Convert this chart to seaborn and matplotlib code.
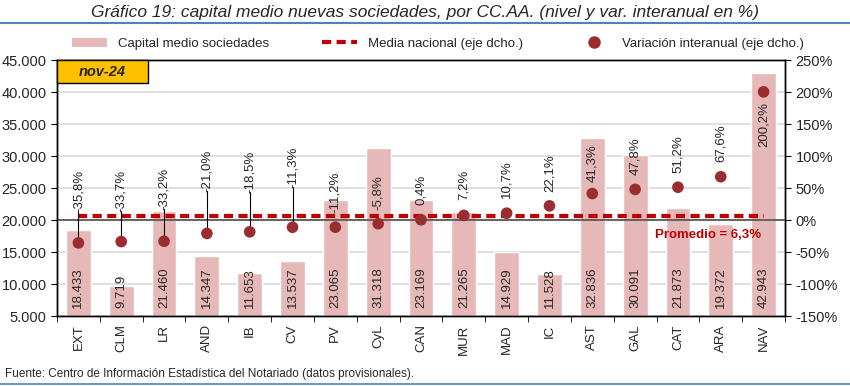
import numpy as np
import pandas as pd
import matplotlib
matplotlib.use("Agg")
import matplotlib.pyplot as plt
import matplotlib.ticker as mticker
from matplotlib.patches import Patch, Rectangle
from matplotlib.lines import Line2D
import seaborn as sns

# data
regiones = ["EXT", "CLM", "LR", "AND", "IB", "CV", "PV", "CyL", "CAN",
            "MUR", "MAD", "IC", "AST", "GAL", "CAT", "ARA", "NAV"]
capital = [18433, 9719, 21460, 14347, 11653, 13537, 23065, 31318, 23169,
           21265, 14929, 11528, 32836, 30091, 21873, 19372, 42943]
variacion = [-35.8, -33.7, -33.2, -21.0, -18.5, -11.3, -11.2, -5.8, 0.4,
             7.2, 10.7, 22.1, 41.3, 47.8, 51.2, 67.6, 200.2]
media_nacional = 6.3
periodo = "nov-24"

df = pd.DataFrame({"region": regiones, "capital": capital, "variacion": variacion})

sns.set_style("white")
plt.rcParams["font.family"] = ["Liberation Sans", "DejaVu Sans"]

BAR = "#E6B9B8"
DOT = "#9B2D30"
RED = "#C00000"
BLUE = "#4F81BD"

fig = plt.figure(figsize=(8.5, 3.86), dpi=100)
ax = fig.add_axes([57 / 850, 70 / 386, 728 / 850, 256 / 386])

sns.barplot(data=df, x="region", y="capital", color=BAR, width=0.58,
            saturation=1, ax=ax, zorder=2)
ax.set_ylim(5000, 45000)
ax.set_xlim(-0.5, len(regiones) - 0.5)
ax.yaxis.set_major_locator(mticker.MultipleLocator(5000))
ax.yaxis.set_major_formatter(mticker.FuncFormatter(lambda v, p: f"{v:,.0f}".replace(",", ".")))
ax.grid(axis="y", color="#D9D9D9", lw=1.2, zorder=0)
ax.set_axisbelow(True)
ax.set_xlabel("")
ax.set_ylabel("")
ax.tick_params(axis="y", labelsize=10.5, left=True, length=4, direction="out", color="black")
ax.tick_params(axis="x", labelsize=9.5, rotation=90, length=0, pad=6)
ax.set_xticks(np.arange(len(regiones) + 1) - 0.5, minor=True)
ax.tick_params(axis="x", which="minor", bottom=True, length=4, color="black")
for s in ax.spines.values():
    s.set_color("black")
    s.set_linewidth(1)

for i, v in enumerate(capital):
    ax.text(i, 6300, f"{v:,}".replace(",", "."), rotation=90, ha="center",
            va="bottom", fontsize=9.5, zorder=3)

ax2 = ax.twinx()
ax2.set_ylim(-150, 250)
ax2.yaxis.set_major_locator(mticker.MultipleLocator(50))
ax2.yaxis.set_major_formatter(mticker.FuncFormatter(lambda v, p: f"{v:.0f}%"))
ax2.tick_params(axis="y", labelsize=10.5, right=True, length=4, direction="out", color="black")
ax2.axhline(0, color="#595959", lw=1.3, zorder=1)

sns.lineplot(x=np.arange(len(regiones)), y=[media_nacional] * len(regiones),
             color=RED, lw=3, dashes=False, ax=ax2, zorder=3)
ax2.lines[-1].set_dashes((2.2, 1.3))
sns.scatterplot(x=np.arange(len(regiones)), y=variacion, color=DOT, s=70,
                edgecolor="none", ax=ax2, zorder=4)
ax2.set_xlim(-0.5, len(regiones) - 0.5)

# label positions (in % units) as in the original
label_pos = [12.5, 12.5, 15.6, 43.7, 42, 50, 11, 15.6, 23, 31, 34, 44,
             59, 70, 73, 91, 184]
leader = [True, True, True, True, True, True, False, False, False, False,
          False, False, False, False, False, False, False]
for i, (v, yl, ld) in enumerate(zip(variacion, label_pos, leader)):
    txt = f"{v:.1f}%".replace(".", ",")
    if i == len(variacion) - 1:
        ax2.text(i, yl, txt, rotation=90, ha="center", va="top", fontsize=9.5, zorder=5)
    else:
        ax2.text(i, yl, txt, rotation=90, ha="center", va="bottom", fontsize=9.5, zorder=5)
    if ld:
        ax2.plot([i, i], [v, yl + 1], color="black", lw=0.8, zorder=3)

ax2.text(14.7, -23, f"Promedio = {media_nacional:.1f}%".replace(".", ","),
         color=RED, fontweight="bold", fontsize=9.5, ha="center", va="center", zorder=5)

for s in ax2.spines.values():
    s.set_color("black")
    s.set_linewidth(1)

# period box
ax2.add_patch(Rectangle((0, 1 - 23 / 256), 91 / 728, 23 / 256, transform=ax2.transAxes,
                        facecolor="#FFC000", edgecolor="black", lw=1, zorder=6, clip_on=False))
ax2.text(45.5 / 728, 1 - 11.5 / 256, periodo, transform=ax2.transAxes, ha="center",
         va="center", fontsize=10.5, fontweight="bold", style="italic", zorder=7)

# legend
handles = [Patch(facecolor=BAR, edgecolor="none"),
           Line2D([], [], color=RED, lw=3, dashes=(2.2, 1.3)),
           Line2D([], [], color=DOT, marker="o", ls="none", markersize=8)]
labels = ["Capital medio sociedades", "Media nacional (eje dcho.)",
          "Variación interanual (eje dcho.)"]
fig.legend(handles, labels, loc="center", bbox_to_anchor=(0.515, 1 - 44 / 386), ncol=3,
           frameon=False, fontsize=9.5, columnspacing=4, handlelength=2.7)

# title, source and rules
fig.text(0.5, 1 - 12 / 386, "Gráfico 19: capital medio nuevas sociedades, por CC.AA. (nivel y var. interanual en %)",
         ha="center", va="center", fontsize=12.5, style="italic")
fig.add_artist(Line2D([0, 1], [1 - 23 / 386] * 2, color=BLUE, lw=1.5))
fig.text(5 / 850, 1 - 374 / 386, "Fuente: Centro de Información Estadística del Notariado (datos provisionales).",
         ha="left", va="center", fontsize=8.5)
fig.add_artist(Line2D([0, 1], [1 - 384 / 386] * 2, color=BLUE, lw=1.2))

fig.savefig("out.png", dpi=100)
